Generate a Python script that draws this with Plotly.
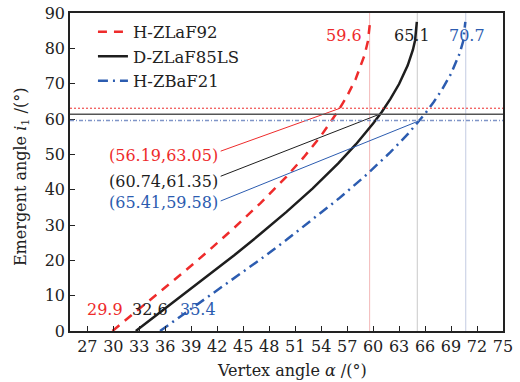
import plotly.graph_objects as go

# ---- data ----
alpha_red = [29.9, 32, 35, 38, 41, 44, 47, 50, 52, 54, 56, 57, 58, 59, 59.4, 59.65]
i_red = [0, 4.2, 10.3, 16.4, 22.7, 29.3, 36.2, 43.7, 49.2, 55.3, 62.4, 66.5, 71.4, 78.0, 82.0, 87.5]

alpha_black = [32.6, 35, 38, 41, 44, 47, 50, 53, 56, 58, 60, 61, 62, 63, 64, 64.6, 64.85, 65.05]
i_black = [0, 4.5, 10.1, 15.7, 21.5, 27.5, 33.7, 40.3, 47.5, 52.8, 58.7, 62.0, 65.7, 69.9, 75.2, 79.6, 82.3, 87.5]

alpha_blue = [35.4, 38, 41, 44, 47, 50, 53, 56, 59, 62, 64, 66, 67, 68, 69, 70, 70.4, 70.65]
i_blue = [0, 4.5, 9.7, 15.0, 20.3, 25.8, 31.5, 37.4, 43.7, 50.6, 55.7, 61.5, 64.8, 68.5, 72.8, 78.6, 82.0, 87.5]

names = ["H-ZLaF92", "D-ZLaF85LS", "H-ZBaF21"]
start_alpha = [29.9, 32.6, 35.4]
limit_alpha = [59.6, 65.1, 70.7]
cross_alpha = [56.19, 60.74, 65.41]
cross_i = [63.05, 61.35, 59.58]
x_ticks = list(range(27, 76, 3))
y_ticks = list(range(0, 91, 10))
x_title = "Vertex angle <i>α</i> /(°)"
y_title = "Emergent angle <i>i</i><sub>1</sub> /(°)"

# ---- styles ----
colors = ["#ee2b2b", "#1e1e1e", "#2c5cb0"]
vcolors = ["#f3b9b9", "#c9c9c9", "#c3cbe2"]
FONT = "DejaVu Serif"
FS = 16

fig = go.Figure()

# vertical limit lines
for a, c in zip(limit_alpha, vcolors):
    fig.add_shape(type="line", x0=a, x1=a, y0=0, y1=90, xref="x", yref="y",
                  line=dict(color=c, width=1), layer="below")

# horizontal lines at crossing values
hstyles = [dict(color="#ee2b2b", width=1, dash="2px,2px"),
           dict(color="#555555", width=1.5, dash="solid"),
           dict(color="#7f95c8", width=1.5, dash="4px,2px,1px,2px")]
for y, st in zip(cross_i, hstyles):
    fig.add_shape(type="line", x0=25, x1=75, y0=y, y1=y, xref="x", yref="y", line=st)

# curves
fig.add_trace(go.Scatter(x=alpha_red, y=i_red, mode="lines", name=names[0],
                         line=dict(color=colors[0], width=2.5, dash="9px,7px")))
fig.add_trace(go.Scatter(x=alpha_black, y=i_black, mode="lines", name=names[1],
                         line=dict(color=colors[1], width=2.5)))
fig.add_trace(go.Scatter(x=alpha_blue, y=i_blue, mode="lines", name=names[2],
                         line=dict(color=colors[2], width=2.5, dash="10px,5px,2px,5px")))

# leader labels
label_x = 42.3
label_y = [49.6, 42.4, 36.3]
lead_y = [50.9, 43.8, 36.8]
for k in range(3):
    fig.add_trace(go.Scatter(x=[label_x + 0.1, cross_alpha[k]], y=[lead_y[k], cross_i[k]],
                             mode="lines", showlegend=False, hoverinfo="skip",
                             line=dict(color=colors[k], width=1)))
    fig.add_annotation(x=label_x, y=label_y[k], xref="x", yref="y",
                       text="(%.2f,%.2f)" % (cross_alpha[k], cross_i[k]),
                       showarrow=False, xanchor="right", yanchor="middle",
                       font=dict(family=FONT, size=FS, color=colors[k]))

# top limit labels
top_pos = [(58.9, "right"), (64.45, "center"), (70.9, "center")]
for k in range(3):
    fig.add_annotation(x=top_pos[k][0], y=83.5, xref="x", yref="y",
                       text="%.1f" % limit_alpha[k], showarrow=False,
                       xanchor=top_pos[k][1], yanchor="middle",
                       font=dict(family=FONT, size=FS, color=colors[k]))

# start labels
start_pos = [29.05, 34.2, 39.8]
for k in range(3):
    fig.add_annotation(x=start_pos[k], y=6.0, xref="x", yref="y",
                       text="%.1f" % start_alpha[k], showarrow=False,
                       xanchor="center", yanchor="middle",
                       font=dict(family=FONT, size=FS, color=colors[k]))

# axis titles
fig.add_annotation(x=0.513, y=0, xref="paper", yref="paper", yshift=-39,
                   text=x_title, showarrow=False, xanchor="center", yanchor="middle",
                   font=dict(family=FONT, size=FS, color="#222222"))
fig.add_annotation(x=0, y=0.484, xref="paper", yref="paper", xshift=-49,
                   text=y_title, showarrow=False, textangle=-90,
                   xanchor="center", yanchor="middle",
                   font=dict(family=FONT, size=FS, color="#222222"))

axis_common = dict(showline=True, linecolor="#222222", linewidth=1.5, mirror=True,
                   ticks="inside", ticklen=5, tickwidth=1, tickcolor="#222222",
                   showgrid=False, zeroline=False, automargin=False,
                   ticklabeloverflow="allow",
                   tickfont=dict(family=FONT, size=FS, color="#222222"))

fig.update_layout(
    width=520, height=382,
    margin=dict(l=70, r=17, t=13, b=51),
    paper_bgcolor="white", plot_bgcolor="white",
    font=dict(family=FONT, size=FS, color="#222222"),
    xaxis=dict(range=[25, 75], tickvals=x_ticks, **axis_common),
    yaxis=dict(range=[0, 90], tickvals=y_ticks, **axis_common),
    legend=dict(x=0.053, y=0.995, xanchor="left", yanchor="top",
                bgcolor="rgba(0,0,0,0)", borderwidth=0, tracegroupgap=0,
                font=dict(family=FONT, size=16.5, color="#222222")),
    showlegend=True,
)

fig.write_html("out.html", config={"displayModeBar": False},
               post_script="document.body.style.margin='0px';document.body.style.overflow='hidden';")
